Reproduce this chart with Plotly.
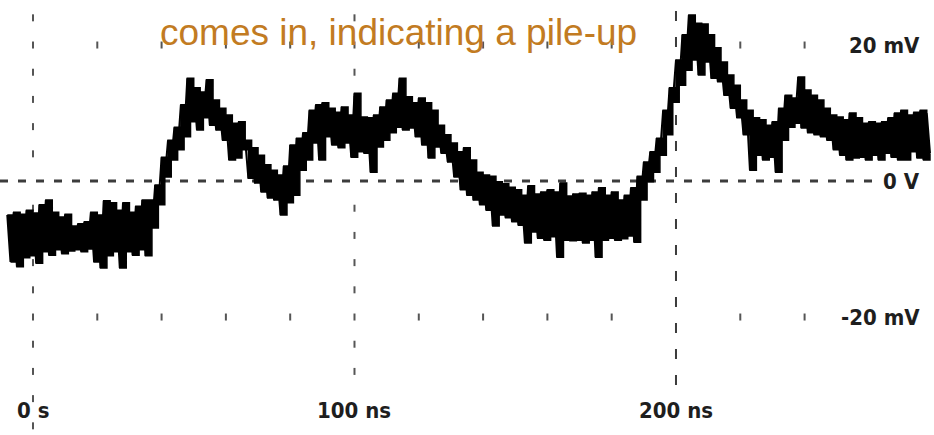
import plotly.graph_objects as go

# Oscilloscope capture: upper and lower excursions of the noisy trace (mV),
# sampled every 2 ns; the lower excursion is taken 1 ns after each upper one.
t_upper = list(range(-8, 280, 2))
v_upper = [
    -5.0, -4.6, -4.9, -4.3, -4.7, -3.5, -2.8, -4.6, -5.3, -4.9,
    -6.6, -6.3, -6.0, -4.6, -5.0, -2.9, -3.2, -4.3, -3.2, -4.6,
    -3.7, -2.8, -2.8, -0.6, 3.5, 6.0, 7.9, 11.2, 15.1, 13.7,
    13.1, 14.9, 11.9, 10.7, 9.7, 8.5, 8.7, 6.0, 4.9, 3.8,
    2.4, 1.6, 0.9, 2.2, 5.3, 6.3, 7.1, 10.4, 11.2, 11.5,
    10.7, 10.1, 10.9, 9.7, 12.9, 9.4, 9.3, 9.7, 10.9, 11.9,
    12.9, 15.1, 12.4, 11.5, 12.2, 11.5, 10.4, 8.2, 6.8, 5.6,
    4.3, 4.9, 3.1, 1.3, 0.9, 0.7, -0.1, -0.4, -0.9, -1.3,
    -2.1, -0.7, -1.9, -1.6, -1.3, -1.6, -0.3, -2.2, -1.9, -1.8,
    -2.1, -1.6, -1.0, -2.1, -1.6, -2.8, -2.1, -1.0, 0.7, 2.8,
    4.3, 6.3, 10.4, 13.7, 17.8, 21.5, 24.4, 23.2, 23.1, 21.5,
    19.6, 17.5, 15.6, 14.1, 11.9, 10.4, 9.3, 9.0, 8.2, 8.7,
    10.7, 12.6, 12.2, 15.3, 13.4, 12.6, 11.9, 10.7, 9.7, 9.4,
    9.0, 10.0, 9.3, 8.5, 8.7, 8.5, 8.7, 9.3, 10.0, 10.4,
    9.7, 10.1, 10.4, 10.0,
]
t_lower = list(range(-7, 281, 2))
v_lower = [
    -11.9, -12.6, -11.3, -11.0, -12.1, -10.4, -10.9, -10.1, -10.7, -10.3,
    -10.1, -10.4, -10.0, -11.9, -12.8, -11.0, -10.4, -12.8, -10.4, -10.9,
    -10.1, -11.0, -6.9, -3.5, 0.6, 3.1, 4.6, 6.5, 8.7, 7.5,
    9.3, 8.2, 7.5, 6.0, 3.1, 3.4, 4.6, 0.4, -0.3, -1.6,
    -2.5, -2.8, -5.0, -3.2, -2.1, 1.6, 3.1, 5.6, 3.1, 6.5,
    5.3, 4.9, 5.6, 3.5, 4.3, 4.1, 1.3, 5.0, 6.0, 7.1,
    7.9, 7.5, 7.8, 6.5, 5.3, 3.4, 5.0, 4.1, 2.8, 0.6,
    -1.3, -2.1, -2.8, -3.5, -4.3, -6.6, -5.0, -5.4, -6.0, -6.5,
    -9.1, -7.5, -8.4, -8.7, -8.2, -11.2, -8.7, -8.8, -8.7, -9.1,
    -8.7, -11.2, -8.7, -8.4, -8.7, -8.5, -8.1, -9.0, -2.8, -0.1,
    1.3, 3.8, 6.8, 11.6, 14.1, 16.3, 17.8, 15.6, 17.5, 15.1,
    14.6, 12.6, 10.7, 9.3, 6.8, 1.6, 3.8, 3.1, 3.5, 1.3,
    6.0, 7.9, 8.5, 7.8, 7.1, 6.8, 6.5, 6.0, 4.6, 3.8,
    3.1, 3.4, 3.5, 3.1, 3.8, 3.1, 4.1, 3.5, 3.1, 3.1,
    4.3, 3.4, 3.1, 4.1,
]

# Graticule: 20 ns columns, 20 mV rows, 4 mV minor marks on the 0 and 100 ns axes
grid_cols = [0, 20, 40, 60, 80, 100, 120, 140, 160, 180, 200, 220, 240]
grid_rows = [20, -20]
minor_mv = [24, 20, 16, 12, 8, 4, -4, -8, -12, -16, -20, -24, -28, -32, -36]
y_labels = ["20 mV", "0 V", "-20 mV"]
y_label_vals = [20, 0, -20]
x_labels = ["0 s", "100 ns", "200 ns"]
x_label_vals = [0, 100, 200]
note = "comes in, indicating a pile-up"

X_RANGE = [-10.26, 280.25]
Y_RANGE = [-37.35, 26.62]

# interleave the two excursions into one scope trace
trace_t, trace_v = [], []
for a, b, c, d in zip(t_upper, v_upper, t_lower, v_lower):
    trace_t += [a, c]
    trace_v += [b, d]

dot_x, dot_y = [], []
for r in grid_rows:
    for c in grid_cols:
        if c in (0, 100, 200):
            continue
        dot_x.append(c)
        dot_y.append(r)
for m in minor_mv:
    dot_x.append(0)
    dot_y.append(m)
    if m >= -28:
        dot_x.append(100)
        dot_y.append(m)

fig = go.Figure()
fig.add_trace(go.Scatter(
    x=dot_x, y=dot_y, mode="markers",
    marker=dict(symbol="line-ns", size=5, line=dict(width=2, color="#555555")),
    hoverinfo="skip", showlegend=False,
))
# persistence band of the trace: stepped upper edge, stepped lower edge, filled between
fig.add_trace(go.Scatter(
    x=t_upper, y=v_upper, mode="lines", line_shape="hv",
    line=dict(color="#000000", width=1.5),
    hoverinfo="skip", showlegend=False,
))
fig.add_trace(go.Scatter(
    x=t_lower, y=v_lower, mode="lines", line_shape="hv",
    line=dict(color="#000000", width=1.5),
    fill="tonexty", fillcolor="#000000",
    hoverinfo="skip", showlegend=False,
))
fig.add_trace(go.Scatter(
    x=trace_t, y=trace_v, mode="lines",
    line=dict(color="#000000", width=2),
    showlegend=False,
))

# 0 V reference and 200 ns cursor
fig.add_shape(type="line", x0=X_RANGE[0], x1=263.5, y0=0, y1=0,
              line=dict(color="#3c3c3c", width=3, dash="8px,10px"), layer="below")
fig.add_shape(type="line", x0=200, x1=200, y0=-30, y1=Y_RANGE[1],
              line=dict(color="#3c3c3c", width=2, dash="10px,16px"), layer="below")

label_font = dict(family="DejaVu Sans Condensed, DejaVu Sans", size=22, color="#1e1e1e",
                  weight="bold")
for txt, v in zip(y_labels, y_label_vals):
    fig.add_annotation(x=276.5, y=v, text=txt, showarrow=False,
                       xanchor="right", yanchor="middle", font=label_font)
for txt, v in zip(x_labels, x_label_vals):
    fig.add_annotation(x=v, y=-33.8, text=txt, showarrow=False,
                       xanchor="center", yanchor="middle", font=label_font)

note_font = dict(family="Liberation Sans, Arial", size=37, color="#C27B22")
fig.add_annotation(x=113.8, y=21.9, text=note, showarrow=False,
                   xanchor="center", yanchor="middle", font=note_font)

fig.update_layout(
    width=934, height=435,
    margin=dict(l=0, r=0, t=0, b=0),
    paper_bgcolor="white", plot_bgcolor="white",
    xaxis=dict(range=X_RANGE, visible=False),
    yaxis=dict(range=Y_RANGE, visible=False),
)
fig.write_html("out.html")
